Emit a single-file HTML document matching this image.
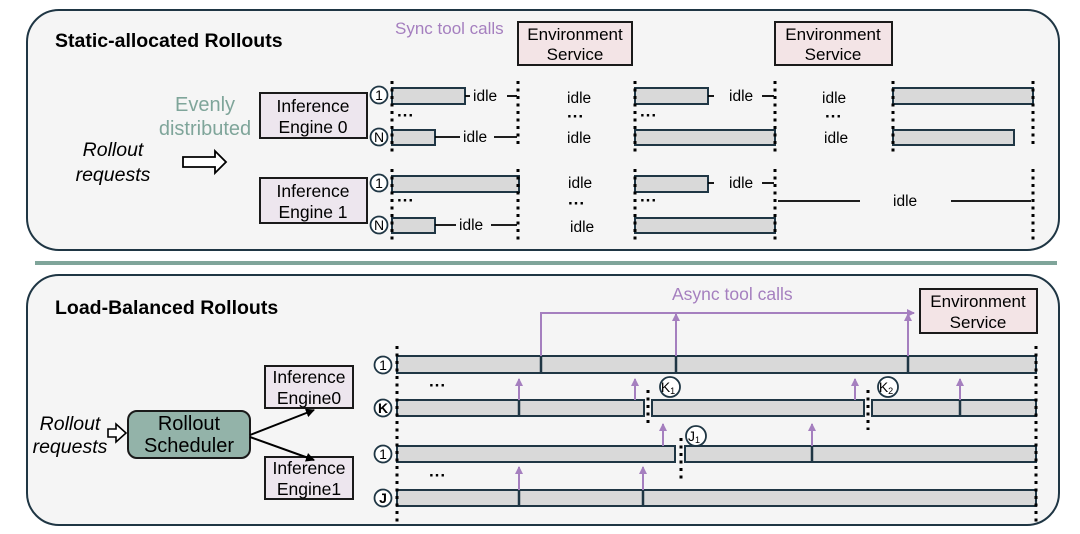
<!DOCTYPE html>
<html><head><meta charset="utf-8"><style>
body{margin:0;background:#fff;}
svg{display:block;font-family:"Liberation Sans",sans-serif;}
</style></head><body>
<svg width="1080" height="534" viewBox="0 0 1080 534" xmlns="http://www.w3.org/2000/svg">
<defs>
<marker id="pa" markerWidth="8" markerHeight="8" refX="7" refY="4" orient="auto" markerUnits="userSpaceOnUse"><path d="M0,0 L8,4 L0,8 z" fill="#a57fbf"/></marker>
<marker id="ba" markerWidth="9" markerHeight="9" refX="8" refY="4.5" orient="auto" markerUnits="userSpaceOnUse"><path d="M0,0 L9,4.5 L0,9 z" fill="#000"/></marker>
</defs>
<rect x="0" y="0" width="1080" height="534" fill="#fff"/>
<rect x="27" y="10" width="1032" height="240" rx="32" fill="#f5f5f5" stroke="#1f3644" stroke-width="2"/>
<line x1="35" y1="263" x2="1057" y2="263" stroke="#7fa59a" stroke-width="4"/>
<rect x="27" y="275" width="1032" height="250" rx="32" fill="#f5f5f5" stroke="#1f3644" stroke-width="2"/>

<g font-size="19.5" font-weight="bold" fill="#000">
<text x="55" y="47">Static-allocated Rollouts</text>
<text x="55" y="314">Load-Balanced Rollouts</text>
</g>
<text x="395" y="34" font-size="17" fill="#a57fbf">Sync tool calls</text>
<text x="672" y="300" font-size="17.5" fill="#a57fbf">Async tool calls</text>

<g fill="#f3e4e6" stroke="#1a1a1a" stroke-width="2">
<rect x="518" y="22" width="114" height="43"/>
<rect x="775" y="22" width="117" height="43"/>
<rect x="920" y="289" width="117" height="44"/>
</g>
<g font-size="17" text-anchor="middle" fill="#000">
<text x="575" y="40">Environment</text><text x="575" y="60">Service</text>
<text x="833" y="40">Environment</text><text x="833" y="60">Service</text>
<text x="978" y="307">Environment</text><text x="978" y="328">Service</text>
</g>

<g font-size="20" text-anchor="middle" fill="#7fa59a">
<text x="205" y="111">Evenly</text><text x="205" y="135">distributed</text>
</g>
<g font-size="19.5" font-style="italic" text-anchor="middle" fill="#000">
<text x="113" y="156">Rollout</text><text x="113" y="181">requests</text>
<text x="70" y="430">Rollout</text><text x="70" y="453">requests</text>
</g>
<path d="M183,157 L215,157 L215,151 L226,162 L215,173 L215,167 L183,167 z" fill="#fff" stroke="#000" stroke-width="1.8"/>
<path d="M108,429 L116,429 L116,424 L126,433 L116,442 L116,437 L108,437 z" fill="#fff" stroke="#000" stroke-width="1.6"/>

<g fill="#ede6ee" stroke="#1a1a1a" stroke-width="2">
<rect x="260" y="93" width="107" height="45"/>
<rect x="260" y="178" width="107" height="45"/>
<rect x="265" y="366" width="88" height="42"/>
<rect x="265" y="457" width="88" height="42"/>
</g>
<g font-size="17.5" text-anchor="middle" fill="#000">
<text x="313" y="112">Inference</text><text x="313" y="133">Engine 0</text>
<text x="313" y="197">Inference</text><text x="313" y="218">Engine 1</text>
<text x="309" y="383">Inference</text><text x="309" y="404">Engine0</text>
<text x="309" y="474">Inference</text><text x="309" y="495">Engine1</text>
</g>
<rect x="128" y="411" width="122" height="47" rx="9" fill="#93b3a9" stroke="#1a1a1a" stroke-width="2"/>
<g font-size="20" text-anchor="middle" fill="#000">
<text x="189" y="430">Rollout</text><text x="189" y="452">Scheduler</text>
</g>
<line x1="250" y1="435" x2="314" y2="410" stroke="#000" stroke-width="2" marker-end="url(#ba)"/>
<line x1="250" y1="437" x2="314" y2="460" stroke="#000" stroke-width="2" marker-end="url(#ba)"/>

<g fill="#fff" stroke="#1f3644" stroke-width="1.8">
<circle cx="379" cy="95" r="8.5"/><circle cx="379" cy="137" r="8.5"/>
<circle cx="379" cy="183" r="8.5"/><circle cx="379" cy="225" r="8.5"/>
<circle cx="383" cy="365" r="8.5"/><circle cx="383" cy="408" r="8.5"/>
<circle cx="383" cy="454" r="8.5"/><circle cx="383" cy="498" r="8.5"/>
<circle cx="670" cy="387" r="10"/><circle cx="888" cy="387" r="10"/><circle cx="696" cy="436" r="10"/>
</g>
<g font-size="14" text-anchor="middle" fill="#000">
<text x="379" y="100">1</text><text x="379" y="142">N</text>
<text x="379" y="188">1</text><text x="379" y="230">N</text>
<text x="383" y="370">1</text><text x="383" y="413" font-weight="bold">K</text>
<text x="383" y="459">1</text><text x="383" y="503" font-weight="bold">J</text>
<text x="668" y="392">K<tspan font-size="9" dy="2">1</tspan></text>
<text x="886" y="392">K<tspan font-size="9" dy="2">2</tspan></text>
<text x="694" y="441">J<tspan font-size="9" dy="2">1</tspan></text>
</g>

<g fill="#d9d9d9" stroke="#1f3644" stroke-width="2">
<rect x="392" y="88" width="73" height="16"/>
<rect x="392" y="130" width="43" height="15"/>
<rect x="392" y="176" width="127" height="16"/>
<rect x="392" y="218" width="43" height="15"/>
<rect x="635" y="88" width="73" height="16"/>
<rect x="635" y="130" width="140" height="15"/>
<rect x="635" y="176" width="73" height="16"/>
<rect x="635" y="218" width="140" height="15"/>
<rect x="893" y="88" width="140" height="16"/>
<rect x="893" y="130" width="121" height="15"/>

<rect x="397" y="356" width="639" height="17"/>
<rect x="397" y="400" width="247" height="16"/>
<rect x="652" y="400" width="212" height="16"/>
<rect x="872" y="400" width="164" height="16"/>
<rect x="397" y="446" width="278" height="16"/>
<rect x="685" y="446" width="351" height="16"/>
<rect x="397" y="490" width="639" height="16"/>
</g>
<g stroke="#1f3644" stroke-width="2.5">
<line x1="541" y1="356" x2="541" y2="373"/><line x1="676" y1="356" x2="676" y2="373"/><line x1="908" y1="356" x2="908" y2="373"/>
<line x1="519" y1="400" x2="519" y2="416"/><line x1="960" y1="400" x2="960" y2="416"/>
<line x1="812" y1="446" x2="812" y2="462"/>
<line x1="519" y1="490" x2="519" y2="506"/><line x1="643" y1="490" x2="643" y2="506"/>
</g>

<g stroke="#000" stroke-width="1.8">
<line x1="465" y1="96" x2="470" y2="96"/><line x1="507" y1="96" x2="517" y2="96"/>
<line x1="435" y1="137" x2="460" y2="137"/><line x1="494" y1="137" x2="517" y2="137"/>
<line x1="435" y1="225" x2="456" y2="225"/><line x1="491" y1="225" x2="517" y2="225"/>
<line x1="708" y1="96" x2="714" y2="96"/><line x1="762" y1="96" x2="774" y2="96"/>
<line x1="708" y1="183" x2="714" y2="183"/><line x1="762" y1="183" x2="774" y2="183"/>
<line x1="778" y1="201" x2="860" y2="201"/><line x1="951" y1="201" x2="1031" y2="201"/>
</g>
<g font-size="15.5" fill="#000">
<text x="473" y="101">idle</text><text x="463" y="142">idle</text><text x="459" y="230">idle</text>
<text x="567" y="103">idle</text><text x="567" y="143">idle</text><text x="568" y="188">idle</text><text x="570" y="232">idle</text>
<text x="729" y="101">idle</text><text x="729" y="188">idle</text>
<text x="822" y="103">idle</text><text x="824" y="143">idle</text><text x="893" y="206">idle</text>
</g>
<g font-size="17" font-weight="bold" fill="#000">
<text x="397" y="121">···</text><text x="397" y="206">···</text>
<text x="640" y="121">···</text><text x="640" y="206">···</text>
<text x="567" y="122">···</text><text x="568" y="209">···</text>
<text x="825" y="122">···</text>
<text x="429" y="391">···</text><text x="429" y="481">···</text>
</g>

<g stroke="#000" stroke-width="3" stroke-dasharray="3 4.5">
<line x1="392" y1="81" x2="392" y2="154"/><line x1="518" y1="81" x2="518" y2="148"/>
<line x1="392" y1="169" x2="392" y2="240"/><line x1="518" y1="169" x2="518" y2="240"/>
<line x1="635" y1="81" x2="635" y2="154"/><line x1="775" y1="81" x2="775" y2="154"/>
<line x1="635" y1="169" x2="635" y2="240"/><line x1="775" y1="169" x2="775" y2="240"/>
<line x1="893" y1="81" x2="893" y2="154"/><line x1="1033" y1="81" x2="1033" y2="148"/>
<line x1="1033" y1="169" x2="1033" y2="240"/>
<line x1="397" y1="346" x2="397" y2="522"/><line x1="1036" y1="346" x2="1036" y2="522"/>
<line x1="648" y1="390" x2="648" y2="424"/><line x1="868" y1="390" x2="868" y2="430"/>
<line x1="681" y1="438" x2="681" y2="480"/>
</g>

<g stroke="#a57fbf" stroke-width="2" fill="none">
<polyline points="541,356 541,313 914,313" marker-end="url(#pa)"/>
<line x1="676" y1="356" x2="676" y2="314" marker-end="url(#pa)"/>
<line x1="908" y1="356" x2="908" y2="314" marker-end="url(#pa)"/>
<line x1="519" y1="400" x2="519" y2="379" marker-end="url(#pa)"/>
<line x1="635" y1="400" x2="635" y2="379" marker-end="url(#pa)"/>
<line x1="855" y1="400" x2="855" y2="379" marker-end="url(#pa)"/>
<line x1="960" y1="400" x2="960" y2="379" marker-end="url(#pa)"/>
<line x1="663" y1="446" x2="663" y2="424" marker-end="url(#pa)"/>
<line x1="812" y1="446" x2="812" y2="424" marker-end="url(#pa)"/>
<line x1="519" y1="490" x2="519" y2="467" marker-end="url(#pa)"/>
<line x1="643" y1="490" x2="643" y2="467" marker-end="url(#pa)"/>
</g>
</svg>
</body></html>
